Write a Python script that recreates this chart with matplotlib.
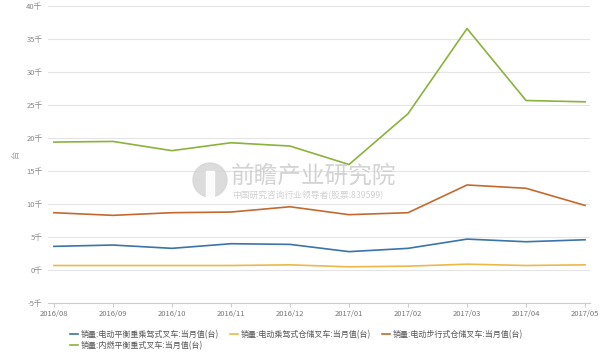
import matplotlib
matplotlib.use("Agg")
import matplotlib.pyplot as plt
from matplotlib.patches import Circle, Rectangle
import numpy as np

plt.rcParams['font.family'] = ['Noto Sans CJK SC', 'DejaVu Sans']

months = ["2016/08", "2016/09", "2016/10", "2016/11", "2016/12",
          "2017/01", "2017/02", "2017/03", "2017/04", "2017/05"]

# values in thousands (千台)
elec_balance = [3.6, 3.8, 3.3, 4.0, 3.9, 2.8, 3.3, 4.7, 4.3, 4.6]
elec_ride_storage = [0.7, 0.7, 0.7, 0.7, 0.8, 0.5, 0.6, 0.9, 0.7, 0.8]
elec_walk_storage = [8.7, 8.3, 8.7, 8.8, 9.6, 8.4, 8.7, 12.9, 12.4, 9.8]
ice_balance = [19.4, 19.5, 18.1, 19.3, 18.8, 16.0, 23.7, 36.6, 25.7, 25.5]

series_names = [
    "销量:电动平衡重乘驾式叉车:当月值(台)",
    "销量:电动乘驾式仓储叉车:当月值(台)",
    "销量:电动步行式仓储叉车:当月值(台)",
    "销量:内燃平衡重式叉车:当月值(台)",
]
colors = ['#3a74a8', '#ecb84a', '#c4692f', '#8ab33c']

yticks = [-5, 0, 5, 10, 15, 20, 25, 30, 35, 40]

fig = plt.figure(figsize=(6, 3.6), dpi=100)
ax = fig.add_axes([0.08, 0.158, 0.903, 0.825])

x = np.arange(len(months))
all_series = [elec_balance, elec_ride_storage, elec_walk_storage, ice_balance]
lines = []
for vals, c, name in zip(all_series, colors, series_names):
    ln, = ax.plot(x, vals, color=c, linewidth=1.2, label=name, zorder=3)
    lines.append(ln)

ax.set_xlim(-0.1, 9.08)
ax.set_ylim(-5, 40)
ax.set_yticks(yticks)
ax.set_yticklabels([f"{v}千" for v in yticks])
ax.set_xticks(x)
ax.set_xticklabels(months)
ax.grid(True, axis='y', color='#e4e4e4', linewidth=0.8)
ax.set_axisbelow(True)
for s in ['top', 'right', 'left']:
    ax.spines[s].set_visible(False)
ax.spines['bottom'].set_color('#cccccc')
ax.spines['bottom'].set_linewidth(0.8)
ax.tick_params(axis='y', length=0, labelsize=5.5, labelcolor='#888888', pad=4)
ax.tick_params(axis='x', length=3, color='#cccccc', labelsize=5.5,
               labelcolor='#777777', pad=2)
ax.set_ylabel("台", fontsize=6, color='#999999', rotation=90, labelpad=4)

# watermark (pixel coords from bottom-left)
fig.add_artist(Circle((210, 180), 17, transform=None,
                      color='#d6d6d6', alpha=0.85, zorder=1))
fig.add_artist(Rectangle((206, 163), 8, 26, transform=None,
                         color='white', alpha=0.9, zorder=1))
fig.text(0.385, 0.512, "前瞻产业研究院", fontsize=17, color='#cccccc',
         alpha=0.85, va='center', ha='left', zorder=1)
fig.text(0.387, 0.458, "中国研究咨询行业领导者(股票:839599)", fontsize=6.3,
         color='#cccccc', alpha=0.9, va='center', ha='left', zorder=1)

handles = [lines[0], lines[3], lines[1], lines[2]]
labels = [series_names[0], series_names[3], series_names[1], series_names[2]]
fig.legend(handles, labels, loc='upper left', bbox_to_anchor=(0.107, 0.1),
           ncol=3, frameon=False, fontsize=5.8, handlelength=1.0,
           handletextpad=0.4, columnspacing=1.3, labelspacing=0.25,
           labelcolor='#555555', borderpad=0.2)

fig.savefig("out.png", dpi=100)
